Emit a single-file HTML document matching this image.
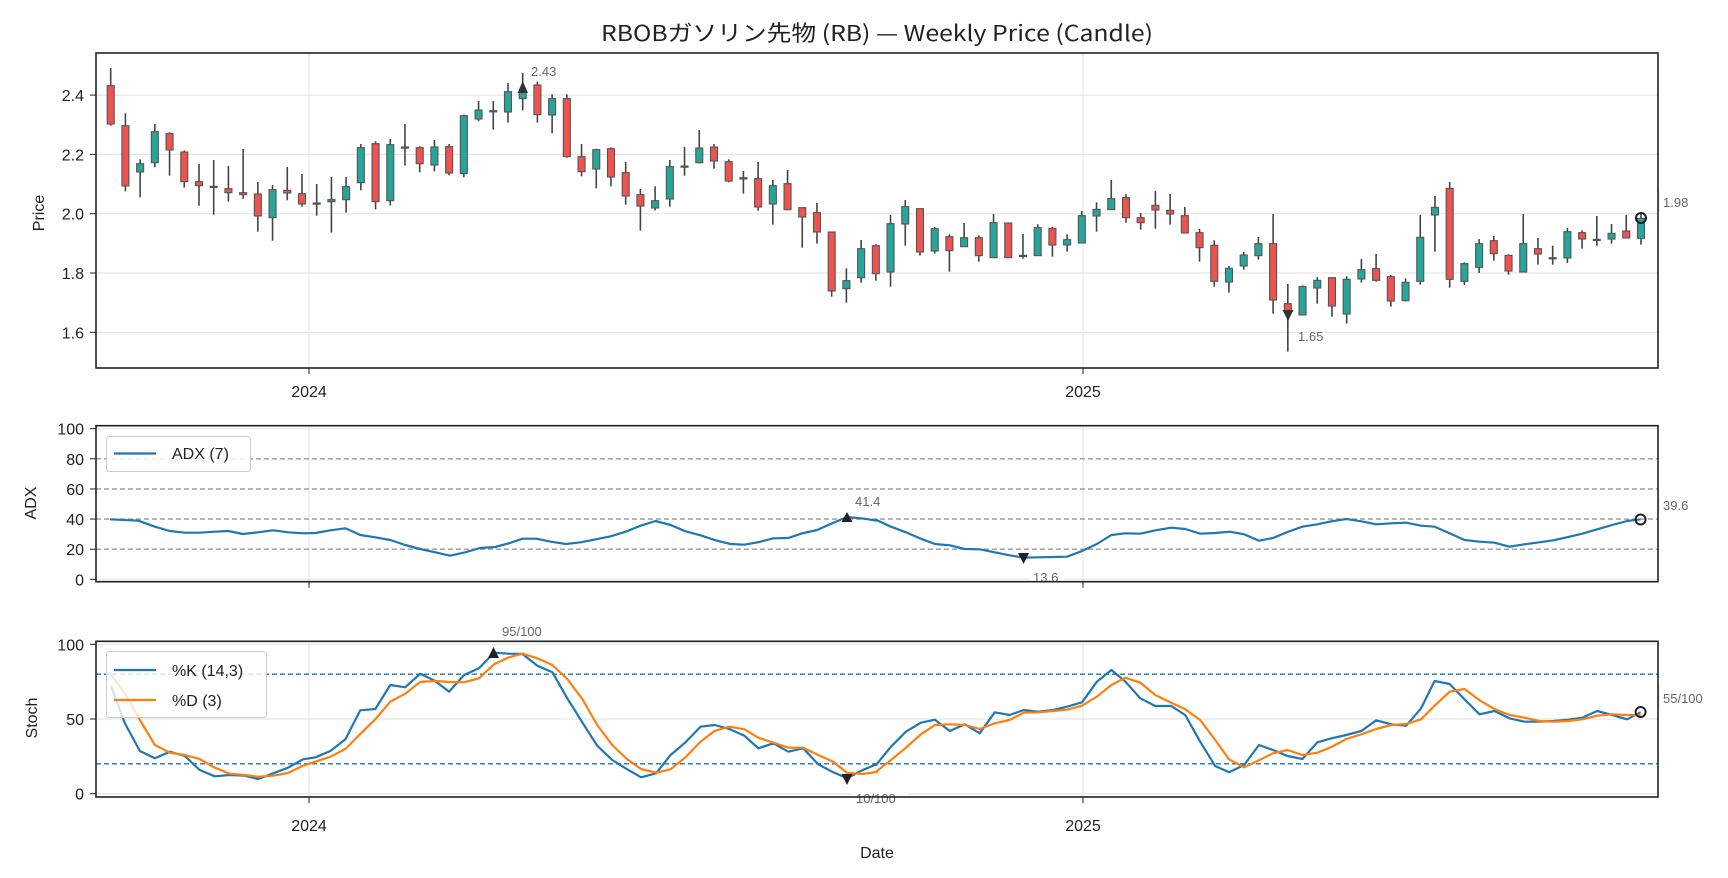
<!DOCTYPE html>
<html><head><meta charset="utf-8"><style>
html,body{margin:0;padding:0;background:#fff;}
svg{display:block;font-family:"Liberation Sans","Noto Sans CJK JP",sans-serif;}
</style></head><body>
<svg id="s" width="1728" height="878" viewBox="0 0 1728 878" xmlns="http://www.w3.org/2000/svg">
<rect width="1728" height="878" fill="#fff"/>
<text x="877" y="41" font-size="22" text-anchor="middle" fill="#222" textLength="552" lengthAdjust="spacingAndGlyphs" style="font-family:'Noto Sans CJK JP','Liberation Sans',sans-serif">RBOBガソリン先物 (RB) — Weekly Price (Candle)</text>
<g id="g"></g>
</svg>
<script>
var NS="http://www.w3.org/2000/svg",g=document.getElementById("g");
function el(t,a,txt){var e=document.createElementNS(NS,t);for(var k in a)e.setAttribute(k,a[k]);if(txt!=null)e.textContent=txt;g.appendChild(e);return e;}
var L=96,R=1658;
var PT=53,PB=368;
function py(p){return 213.7-(p-2.0)*296.5;}
[2.4,2.2,2.0,1.8,1.6].forEach(function(p){var y=py(p);el("line",{x1:L,x2:R,y1:y,y2:y,stroke:"#e6e6e6","stroke-width":1.2});el("line",{x1:90,x2:96,y1:y,y2:y,stroke:"#222","stroke-width":1});el("text",{x:84,y:y+6,"font-size":16,"text-anchor":"end",fill:"#222"},p.toFixed(1));});
[309,1083].forEach(function(x){el("line",{x1:x,x2:x,y1:PT,y2:PB,stroke:"#e6e6e6","stroke-width":1.2});});
var C=[["R",45,98,213,218],["R",181,218,399,415],["G",319,332,357,433],["G",213,236,329,343],["R",238,242,291,368],["R",292,297,386,404],["R",333,386,398,458],["D",321,400,402,485],["R",339,407,419,446],["R",288,419,425,437],["R",387,423,489,536],["G",396,410,494,563],["R",342,412,420,442],["R",363,422,453,461],["D",393,450,452,488],["G",372,440,446,539],["G",372,401,440,479],["G",273,284,389,412],["R",265,272,446,469],["G",258,275,443,457],["D",213,282,285,338],["R",280,284,332,358],["G",261,282,336,355],["R",273,281,360,367],["G",185,188,362,373],["G",144,171,198,205],["D",144,173,176,230],["G",90,116,177,209],["G",60,118,137,172],["R",86,96,185,209],["G",124,137,186,241],["R",124,137,311,314],["R",273,311,356,370],["G",287,290,348,406],["R",283,287,372,400],
["R",327,359,429,455],["R",408,425,459,533],["G",400,443,465,472],["G",321,341,438,461],["D",282,339,342,368],["G",231,285,329,331],["R",273,282,324,347],["R",319,326,384,388],["D",354,374,378,422],["R",327,377,462,473],["G",381,398,453,515],["R",351,392,470,470],["R",463,464,492,584],["R",450,479,537,572],["R",536,537,714,731],["G",646,683,707,749],["G",561,587,674,689],["R",574,578,662,683],["G",486,512,657,701],["G",441,461,513,578],["R",467,467,597,608],["G",522,527,594,602],["R",544,551,593,656],["G",510,554,581,581],["R",547,554,608,626],["G",483,509,614,614],["R",509,510,614,614],["D",543,607,609,617],["G",514,524,608,608],["R",522,526,576,611],["G",544,560,576,596],["G",474,488,570,570],["G",448,469,489,536],["G",381,437,470,470],["R",423,434,494,509],
["R",480,494,509,530],["R",414,457,471,527],["R",423,472,483,515],["R",462,488,540,540],["R",528,539,584,626],["R",562,577,685,701],["G",639,646,687,719],["G",597,606,639,650],["G",552,572,608,620],["R",483,572,741,782],["R",693,752,775,896],["G",697,701,786,786],["G",672,682,705,752],["R",673,674,759,791],["G",670,679,783,812],["G",618,650,678,689],["R",603,647,682,686],["R",666,671,744,761],["G",676,688,743,745],["G",486,553,685,695],["G",429,463,486,596],["R",387,406,679,704],["G",628,632,685,696],["G",558,572,643,660],["R",549,563,602,623],["R",604,607,654,665],["G",483,572,657,657],["R",555,587,603,635],["D",578,614,617,635],["G",525,536,615,630],["R",532,539,558,587],["D",489,559,562,578],["G",513,541,558,572],["R",486,534,555,555],["G",480,496,556,575]];
C.forEach(function(c,i){var x=110.7+i*14.714;function y(v){return 53+v/3;}
el("line",{x1:x,x2:x,y1:y(c[1]),y2:y(c[4]),stroke:"#444","stroke-width":1.6});
var top=y(c[2]),h=Math.max(y(c[3])-top,1.2);
el("rect",{x:x-3.5,y:top,width:7,height:h,fill:c[0]=="R"?"#ef5350":c[0]=="G"?"#26a69a":"#555",stroke:"#555","stroke-width":1.1});});
el("path",{d:"M522.7 81 L517.5 93 L528 93 Z",fill:"#333"});
el("text",{x:531,y:76,"font-size":13,fill:"#666"},"2.43");
el("path",{d:"M1288 321 L1282.5 310 L1293.5 310 Z",fill:"#333"});
el("text",{x:1298,y:341,"font-size":13,fill:"#666"},"1.65");
el("circle",{cx:1641,cy:218,r:5,fill:"none",stroke:"#222","stroke-width":2});
el("line",{x1:1659,x2:1659,y1:190,y2:212,stroke:"#ddd","stroke-width":1});
el("text",{x:1663,y:207,"font-size":13,fill:"#666"},"1.98");
el("rect",{x:L,y:PT,width:R-L,height:PB-PT,fill:"none",stroke:"#222","stroke-width":1.6});
[[309,"2024"],[1083,"2025"]].forEach(function(t){el("line",{x1:t[0],x2:t[0],y1:PB,y2:PB+6,stroke:"#222"});el("text",{x:t[0],y:397,"font-size":16,"text-anchor":"middle",fill:"#222"},t[1]);});
el("text",{x:0,y:0,"font-size":16,"text-anchor":"middle",fill:"#222",transform:"translate(44,213) rotate(-90)"},"Price");
var AT=425.7,AB=581.7;function ay(v){return 579.3-1.506*v;}
[0,100].forEach(function(v){el("line",{x1:L,x2:R,y1:ay(v),y2:ay(v),stroke:"#e6e6e6","stroke-width":1.2});});
[309,1083].forEach(function(x){el("line",{x1:x,x2:x,y1:AT,y2:AB,stroke:"#e6e6e6","stroke-width":1.2});});
[20,40,60,80].forEach(function(v){el("line",{x1:L,x2:R,y1:ay(v),y2:ay(v),stroke:"#999","stroke-width":1.4,"stroke-dasharray":"5,3"});});
[0,20,40,60,80,100].forEach(function(v){var y=ay(v);el("line",{x1:90,x2:96,y1:y,y2:y,stroke:"#222"});el("text",{x:84,y:y+6,"font-size":16,"text-anchor":"end",fill:"#222"},v);});
function pts(a,ox){return a.map(function(p){return (ox+p[0]/2.005).toFixed(1)+","+(425+p[1]/3).toFixed(1);}).join(" ");}
var A1=[[28,283],[85,287],[118,305],[148,318],[178,323],[208,323],[238,320],[265,318],[295,327],[325,322],[355,316],[385,322],[415,325],[440,324],[470,316],[500,310],[530,330],[560,337],[590,345],[620,360],[650,372],[680,382],[710,392],[740,382],[770,369],[800,366],[830,354],[855,341],[883,341],[912,350],[942,357],[972,352],[1002,343],[1032,334],[1062,320],[1092,302],[1122,288],[1152,300],[1182,319],[1212,331],[1242,346],[1272,357],[1300,359],[1330,351],[1358,340],[1388,339],[1416,325],[1446,315],[1476,295],[1506,276],[1540,281],[1566,287]];
var A2=[[0,284],[30,305],[60,322],[90,341],[118,357],[148,361],[178,372],[208,373],[238,382],[268,391],[296,398],[325,397],[355,396],[383,395],[413,378],[443,357],[472,330],[500,325],[530,326],[560,316],[592,308],[620,312],[650,326],[680,324],[710,320],[738,328],[768,347],[796,339],[825,321],[855,305],[885,298],[913,289],[943,282],[973,289],[1003,298],[1033,295],[1063,293],[1093,302],[1120,305],[1150,325],[1180,345],[1210,350],[1240,353],[1270,365],[1300,358],[1330,352],[1358,346],[1388,336],[1416,326],[1446,313],[1476,300],[1506,288],[1533,283]];
el("polyline",{points:pts(A1,96)+" "+pts(A2,876),fill:"none",stroke:"#1f77b4","stroke-width":2.2,"stroke-linejoin":"round"});
el("path",{d:"M847 512 L841.5 522 L852.5 522 Z",fill:"#222"});
el("text",{x:855,y:506,"font-size":13,fill:"#666"},"41.4");
el("path",{d:"M1023.6 564 L1018 553 L1029 553 Z",fill:"#222"});
el("rect",{x:1030,y:569,width:34,height:15,fill:"#fff"});
el("text",{x:1033,y:582,"font-size":13,fill:"#666"},"13.6");
el("circle",{cx:1640.6,cy:519.5,r:5,fill:"none",stroke:"#222","stroke-width":2});
el("line",{x1:1659,x2:1659,y1:492,y2:514,stroke:"#ddd"});
el("text",{x:1663,y:510,"font-size":13,fill:"#666"},"39.6");
el("rect",{x:L,y:AT,width:R-L,height:AB-AT,fill:"none",stroke:"#222","stroke-width":1.6});
[309,1083].forEach(function(x){el("line",{x1:x,x2:x,y1:AB,y2:AB+6,stroke:"#222"});});
el("rect",{x:106.5,y:436.5,width:144,height:35,rx:3,fill:"#fff","fill-opacity":0.8,stroke:"#ccc"});
el("line",{x1:114,x2:156,y1:453.5,y2:453.5,stroke:"#1f77b4","stroke-width":2.2});
el("text",{x:172,y:459,"font-size":16,fill:"#222"},"ADX (7)");
el("text",{x:0,y:0,"font-size":16,"text-anchor":"middle",fill:"#222",transform:"translate(36,503) rotate(-90)"},"ADX");
var ST=641.3,SB=797;function sy(v){return 793.7-1.494*v;}
[0,50,100].forEach(function(v){el("line",{x1:L,x2:R,y1:sy(v),y2:sy(v),stroke:"#e6e6e6","stroke-width":1.2});});
[309,1083].forEach(function(x){el("line",{x1:x,x2:x,y1:ST,y2:SB,stroke:"#e6e6e6","stroke-width":1.2});});
[20,80].forEach(function(v){el("line",{x1:L,x2:R,y1:sy(v),y2:sy(v),stroke:"#1f77b4","stroke-width":1.4,"stroke-dasharray":"5,3"});});
[0,50,100].forEach(function(v){var y=sy(v);el("line",{x1:90,x2:96,y1:y,y2:y,stroke:"#222"});el("text",{x:84,y:y+6,"font-size":16,"text-anchor":"end",fill:"#222"},v);});
var K1=[[30,782],[58,895],[88,978],[118,1000],[148,980],[178,993],[208,1035],[238,1054],[268,1050],[298,1052],[325,1062],[355,1045],[385,1028],[415,1003],[440,997],[470,978],[500,943],[530,856],[560,852],[590,780],[620,787],[650,746],[680,768],[708,800],[738,750],[768,730],[798,683],[828,686],[855,687],[885,722],[915,742],[945,820],[975,892],[1005,962],[1035,1005],[1065,1033],[1093,1057],[1123,1045],[1152,990],[1182,952],[1212,905],[1240,900],[1270,912],[1300,932],[1328,970],[1358,955],[1388,980],[1418,970],[1448,1018],[1478,1042],[1506,1060],[1536,1036],[1566,1017]];
var D1=[[30,748],[58,805],[88,885],[118,960],[148,983],[178,990],[208,1002],[238,1028],[268,1046],[298,1050],[325,1055],[355,1052],[385,1044],[415,1022],[440,1010],[470,995],[500,972],[530,927],[560,883],[590,830],[620,806],[650,771],[680,768],[708,771],[738,772],[768,760],[798,718],[828,697],[855,686],[885,700],[915,720],[945,762],[975,822],[1005,900],[1035,960],[1065,1003],[1093,1032],[1123,1043],[1152,1033],[1182,997],[1212,950],[1240,918],[1270,905],[1300,913],[1328,938],[1358,953],[1388,968],[1418,968],[1448,990],[1478,1010],[1506,1043],[1536,1047],[1566,1041]];
var K2=[[0,1020],[30,965],[60,920],[90,893],[118,884],[148,918],[178,898],[208,925],[238,862],[268,870],[296,855],[325,860],[355,855],[383,845],[413,832],[443,770],[472,735],[500,770],[530,820],[560,843],[592,843],[620,870],[650,950],[680,1023],[708,1042],[738,1020],[768,960],[796,975],[825,993],[855,1002],[885,952],[913,940],[943,930],[973,918],[1003,886],[1033,898],[1063,902],[1093,850],[1120,768],[1150,777],[1180,823],[1210,868],[1240,858],[1270,880],[1300,890],[1330,890],[1358,888],[1388,884],[1416,878],[1446,858],[1476,870],[1506,883],[1533,862]];
var D2=[[0,1040],[30,1005],[60,968],[90,928],[118,900],[148,898],[178,900],[208,912],[238,895],[268,885],[296,863],[325,862],[355,858],[383,854],[413,842],[443,815],[472,780],[500,758],[530,773],[560,810],[592,833],[620,853],[650,885],[680,945],[708,1003],[738,1027],[768,1006],[796,985],[825,975],[855,990],[885,983],[913,966],[943,942],[973,928],[1003,912],[1033,900],[1063,897],[1093,883],[1120,842],[1150,800],[1180,792],[1210,826],[1240,852],[1270,870],[1300,878],[1330,888],[1358,890],[1388,888],[1416,883],[1446,872],[1476,868],[1506,870],[1533,870]];
el("polyline",{points:pts(K1,96)+" "+pts(K2,876),fill:"none",stroke:"#1f77b4","stroke-width":2.2,"stroke-linejoin":"round"});
el("polyline",{points:pts(D1,96)+" "+pts(D2,876),fill:"none",stroke:"#ff7f0e","stroke-width":2.2,"stroke-linejoin":"round"});
el("path",{d:"M493.5 647 L488 658 L499 658 Z",fill:"#222"});
el("rect",{x:499,y:622,width:55,height:16,fill:"#fff"});
el("text",{x:502,y:636,"font-size":13,fill:"#666"},"95/100");
el("path",{d:"M847 785 L841.5 774 L852.5 774 Z",fill:"#222"});
el("rect",{x:853,y:790,width:55,height:15,fill:"#fff"});
el("text",{x:856,y:803,"font-size":13,fill:"#666"},"10/100");
el("circle",{cx:1640.6,cy:712,r:5,fill:"none",stroke:"#222","stroke-width":2});
el("line",{x1:1659,x2:1659,y1:686,y2:708,stroke:"#ddd"});
el("text",{x:1663,y:703,"font-size":13,fill:"#666"},"55/100");
el("rect",{x:L,y:ST,width:R-L,height:SB-ST,fill:"none",stroke:"#222","stroke-width":1.6});
[[309,"2024"],[1083,"2025"]].forEach(function(t){el("line",{x1:t[0],x2:t[0],y1:SB,y2:SB+6,stroke:"#222"});el("text",{x:t[0],y:831,"font-size":16,"text-anchor":"middle",fill:"#222"},t[1]);});
el("rect",{x:106.5,y:651.5,width:160,height:66,rx:3,fill:"#fff","fill-opacity":0.8,stroke:"#ccc"});
el("line",{x1:114,x2:156,y1:670,y2:670,stroke:"#1f77b4","stroke-width":2.2});
el("text",{x:172,y:676,"font-size":16,fill:"#222"},"%K (14,3)");
el("line",{x1:114,x2:156,y1:700,y2:700,stroke:"#ff7f0e","stroke-width":2.2});
el("text",{x:172,y:706,"font-size":16,fill:"#222"},"%D (3)");
el("text",{x:0,y:0,"font-size":16,"text-anchor":"middle",fill:"#222",transform:"translate(37,718) rotate(-90)"},"Stoch");
el("text",{x:877,y:858,"font-size":16,"text-anchor":"middle",fill:"#222"},"Date");
</script>
</body></html>
